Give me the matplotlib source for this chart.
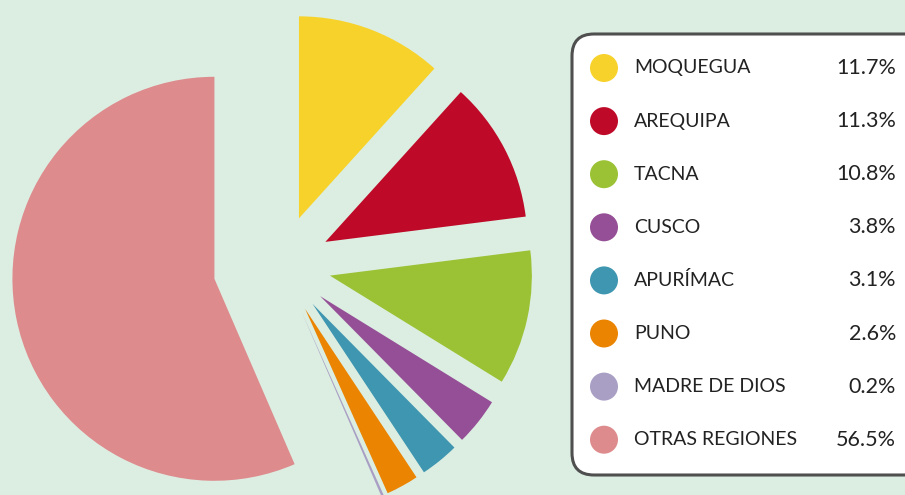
import matplotlib.pyplot as plt
from matplotlib.patches import FancyBboxPatch, Circle

regions = ['MOQUEGUA', 'AREQUIPA', 'TACNA', 'CUSCO', 'APURÍMAC', 'PUNO',
           'MADRE DE DIOS', 'OTRAS REGIONES']
shares = [11.7, 11.3, 10.8, 3.8, 3.1, 2.6, 0.2, 56.5]
colors = ['#F7D22A', '#BE0A28', '#9BC234', '#954F96', '#3F96B0', '#EB8400',
          '#A99FC4', '#DE8B8D']
# explode offsets in pixels (pie drawn in pixel coordinates)
explode = [50, 50, 50, 50, 50, 50, 50, 68]

bg = '#DCEEE2'
plt.rcParams['font.family'] = ['Lato', 'DejaVu Sans']

fig = plt.figure(figsize=(9.05, 4.95), dpi=100, facecolor=bg)
ax = fig.add_axes([0, 0, 1, 1])
ax.set_facecolor(bg)

ax.pie(shares, colors=colors, explode=explode, startangle=90, counterclock=False,
       radius=202, center=(281, 495 - 265), frame=True,
       wedgeprops=dict(linewidth=0))

ax.set_xlim(0, 905)
ax.set_ylim(0, 495)
ax.set_aspect('equal')
ax.axis('off')

# legend box
box = FancyBboxPatch((572, 495 - 475), 360, 441,
                     boxstyle='round,pad=0,rounding_size=22',
                     facecolor='white', edgecolor='#4F4F4F', linewidth=2.2,
                     zorder=3)
ax.add_patch(box)

y0 = 495 - 68
step = 53.1
for i, (name, val, c) in enumerate(zip(regions, shares, colors)):
    y = y0 - i * step
    ax.add_patch(Circle((604, y), 14, facecolor=c, edgecolor='none', zorder=4))
    ax.text(634, y, name, fontsize=14, color='#222222', va='center',
            ha='left', zorder=5)
    ax.text(896, y, f'{val:.1f}%', fontsize=15.5, color='#222222',
            va='center', ha='right', zorder=5)

fig.savefig('out.png', dpi=100, facecolor=bg)
